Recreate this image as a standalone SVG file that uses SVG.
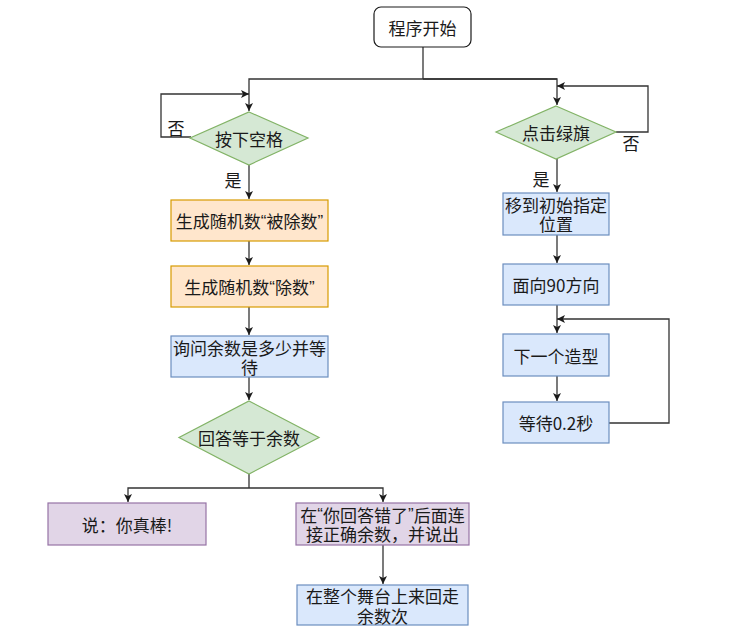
<svg xmlns="http://www.w3.org/2000/svg" width="732" height="628" viewBox="0 0 732 628">
<defs>
<style>
text{font-family:"Noto Sans CJK SC","Noto Sans",sans-serif;font-size:17px;fill:#1a1a1a;text-anchor:middle;dominant-baseline:central}
.q{font-family:"Liberation Sans",sans-serif}
.c{fill:none;stroke:#333;stroke-width:1.3}
.o{fill:#ffe6cc;stroke:#d79b00;stroke-width:1.2}
.b{fill:#dae8fc;stroke:#6c8ebf;stroke-width:1.2}
.g{fill:#d5e8d4;stroke:#82b366;stroke-width:1.2}
.p{fill:#e1d5e7;stroke:#9673a6;stroke-width:1.2}
.s{fill:#fff;stroke:#1a1a1a;stroke-width:1.2}
</style>
<marker id="a" viewBox="0 0 10 10" refX="10" refY="5" markerWidth="8" markerHeight="8" orient="auto" markerUnits="userSpaceOnUse"><path d="M0,0L10,5L0,10L2.5,5z" fill="#1a1a1a"/></marker>
</defs>
<rect width="732" height="628" fill="#fff"/>
<g id="connectors">
<path class="c" d="M423,47V79"/>
<path class="c" d="M557,79H249V111" marker-end="url(#a)"/>
<path class="c" d="M423,79H557V105" marker-end="url(#a)"/>
<path class="c" d="M191,137H161V94H249" marker-end="url(#a)"/>
<path class="c" d="M249,165V199" marker-end="url(#a)"/>
<path class="c" d="M249,241V265" marker-end="url(#a)"/>
<path class="c" d="M249,307V335" marker-end="url(#a)"/>
<path class="c" d="M249,377V400" marker-end="url(#a)"/>
<path class="c" d="M249,474V488"/>
<path class="c" d="M249,488H128V502" marker-end="url(#a)"/>
<path class="c" d="M249,488H383V502" marker-end="url(#a)"/>
<path class="c" d="M383,545V584" marker-end="url(#a)"/>
<path class="c" d="M616,132H648V86H557" marker-end="url(#a)"/>
<path class="c" d="M557,159V192" marker-end="url(#a)"/>
<path class="c" d="M557,235V263" marker-end="url(#a)"/>
<path class="c" d="M557,305V333" marker-end="url(#a)"/>
<path class="c" d="M557,376V401" marker-end="url(#a)"/>
<path class="c" d="M609,423H669V319H557" marker-end="url(#a)"/>
<text x="176" y="127">否</text>
<text x="233" y="179">是</text>
<text x="631" y="142">否</text>
<text x="541" y="178">是</text>
</g>
<g id="start"><rect class="s" x="374" y="7" width="97" height="40" rx="7"/><text x="422.5" y="27">程序开始</text></g>
<g id="d1"><path class="g" d="M249,112L308,138L249,165L190,138Z"/><text x="249" y="138">按下空格</text></g>
<g id="n1"><rect class="o" x="171" y="200" width="157" height="41"/><text x="249.5" y="220.5">生成随机数<tspan class="q">“</tspan>被除数<tspan class="q">”</tspan></text></g>
<g id="n2"><rect class="o" x="171" y="266" width="157" height="41"/><text x="249.5" y="286.5">生成随机数<tspan class="q">“</tspan>除数<tspan class="q">”</tspan></text></g>
<g id="n3"><rect class="b" x="171" y="336" width="157" height="41"/><text x="249.5" y="347">询问余数是多少并等<tspan x="249.5" dy="19">待</tspan></text></g>
<g id="d2"><path class="g" d="M249,401L319,437.5L249,474L179,437.5Z"/><text x="249" y="437.5">回答等于余数</text></g>
<g id="n4"><rect class="p" x="48" y="503" width="158" height="42"/><text x="127" y="524">说：你真棒!</text></g>
<g id="n5"><rect class="p" x="296" y="503" width="173" height="42"/><text x="382.5" y="514">在<tspan class="q">“</tspan>你回答错了<tspan class="q">”</tspan>后面连<tspan x="382.5" dy="19">接正确余数，并说出</tspan></text></g>
<g id="n6"><rect class="b" x="297" y="585" width="171" height="40"/><text x="382.5" y="595.5">在整个舞台上来回走<tspan x="382.5" dy="19">余数次</tspan></text></g>
<g id="d3"><path class="g" d="M556,106L616,132L556,159L496,132Z"/><text x="556" y="132">点击绿旗</text></g>
<g id="m1"><rect class="b" x="503" y="193" width="106" height="42"/><text x="556" y="204">移到初始指定<tspan x="556" dy="19">位置</tspan></text></g>
<g id="m2"><rect class="b" x="503" y="264" width="106" height="41"/><text x="556" y="284.5">面向90方向</text></g>
<g id="m3"><rect class="b" x="503" y="334" width="106" height="42"/><text x="556" y="355">下一个造型</text></g>
<g id="m4"><rect class="b" x="503" y="402" width="106" height="41"/><text x="556" y="422.5">等待0.2秒</text></g>
</svg>
